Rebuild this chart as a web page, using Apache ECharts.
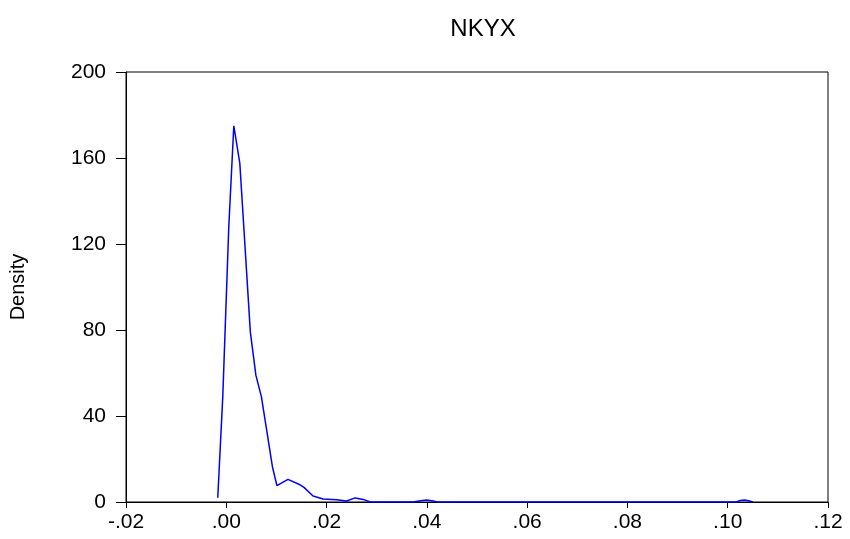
<!DOCTYPE html>
<html>
<head>
<meta charset="utf-8">
<script src="https://cdn.jsdelivr.net/npm/echarts@6/dist/echarts.min.js"></script>
<style>html,body{margin:0;padding:0;background:#fff;}#c{width:850px;height:539px;}</style>
</head>
<body>
<div id="c"></div>
<script>
var titleText = 'NKYX';
var yAxisName = 'Density';
var xValues = [-0.0017, -0.0007, 0.0005, 0.0015, 0.0027, 0.0048, 0.0059, 0.0070, 0.0092, 0.0101, 0.0123, 0.0147, 0.0155, 0.0173, 0.0193, 0.0220, 0.0240, 0.0257, 0.0273, 0.0287, 0.0373, 0.0387, 0.0400, 0.0413, 0.0420, 0.1017, 0.1025, 0.1033, 0.1042, 0.1050];
var densityValues = [2, 49, 128, 175, 157.5, 79, 59, 49, 16.4, 7.6, 10.5, 8, 6.8, 2.8, 1.4, 1.1, 0.5, 1.9, 1.2, 0, 0, 0.6, 0.9, 0.5, 0, 0, 0.7, 0.9, 0.6, 0];
var xTickLabels = {'-0.02': '-.02', '0': '.00', '0.02': '.02', '0.04': '.04', '0.06': '.06', '0.08': '.08', '0.1': '.10', '0.12': '.12'};

var data = xValues.map(function (x, i) { return [x, densityValues[i]]; });
var chart = echarts.init(document.getElementById('c'), null, {renderer: 'canvas'});
var font = 'Liberation Sans, Arial, sans-serif';
chart.setOption({
  animation: false,
  backgroundColor: '#fff',
  title: {
    text: titleText, left: 478, top: 12, textAlign: 'center',
    textStyle: {fontFamily: font, fontSize: 24, fontWeight: 'normal', color: '#000'}
  },
  grid: {left: 126, right: 22, top: 72, bottom: 37, show: true, borderColor: '#000', borderWidth: 1, backgroundColor: 'transparent'},
  xAxis: {
    type: 'value', min: -0.02, max: 0.12, interval: 0.02,
    axisLine: {show: true, onZero: false, lineStyle: {color: '#000', width: 1}},
    axisTick: {show: true, length: 6, lineStyle: {color: '#000'}},
    splitLine: {show: false},
    axisLabel: {
      margin: 10, color: '#000', fontFamily: font, fontSize: 21,
      formatter: function (v) { var k = String(Math.round(v * 100) / 100); return xTickLabels[k] !== undefined ? xTickLabels[k] : k; }
    }
  },
  yAxis: {
    type: 'value', min: 0, max: 200, interval: 40,
    name: yAxisName, nameLocation: 'middle', nameRotate: 90, nameGap: 98,
    nameTextStyle: {fontFamily: font, fontSize: 20, color: '#000'},
    axisLine: {show: true, onZero: false, lineStyle: {color: '#000', width: 1}},
    axisTick: {show: true, length: 10, lineStyle: {color: '#000'}},
    splitLine: {show: false},
    axisLabel: {margin: 20, color: '#000', fontFamily: font, fontSize: 21}
  },
  series: [{
    type: 'line', data: data, showSymbol: false, smooth: false,
    lineStyle: {color: '#0000ff', width: 1.5}, itemStyle: {color: '#0000ff'}
  }]
});
</script>
</body>
</html>
